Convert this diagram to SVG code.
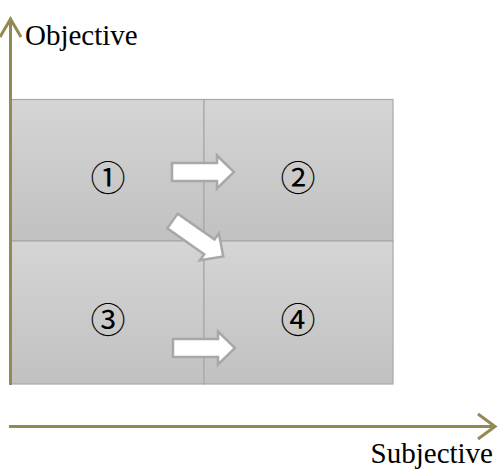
<svg xmlns="http://www.w3.org/2000/svg" width="500" height="475" viewBox="0 0 500 475">
<style>
.box{stroke:#a8a8a8;stroke-width:1.2;fill:url(#g)}
.num{font-family:"Noto Sans CJK JP","DejaVu Sans",sans-serif;font-size:35px;fill:#000;text-anchor:middle;dominant-baseline:central}
.lbl{font-family:"Liberation Serif","Times New Roman",Tinos,"Noto Serif","DejaVu Serif",serif;font-size:29px;fill:#000}
.axis{stroke:#938953;stroke-width:3;fill:none}
.arr{fill:#fff;stroke:#a8a8a8;stroke-width:2.5;stroke-linejoin:miter}
</style>
<defs>
<linearGradient id="g" x1="0" y1="0" x2="0" y2="1">
<stop offset="0" stop-color="#d5d5d5"/>
<stop offset="1" stop-color="#c1c1c1"/>
</linearGradient>
<path id="ar" d="M0,-9 H45 V-16.5 L62,0 L45,16.5 V9 H0 Z"/>
</defs>
<g id="q1"><rect class="box" x="11" y="99.5" width="193" height="141.5"/><text class="num" x="108" y="175">①</text></g>
<g id="q2"><rect class="box" x="204" y="99.5" width="189" height="141.5"/><text class="num" x="298" y="175">②</text></g>
<g id="q3"><rect class="box" x="11" y="241" width="193" height="143"/><text class="num" x="108" y="317">③</text></g>
<g id="q4"><rect class="box" x="204" y="241" width="189" height="143"/><text class="num" x="298" y="317">④</text></g>
<g id="connectors">
<use href="#ar" class="arr" transform="translate(172,172)"/>
<use href="#ar" class="arr" transform="translate(172.5,221) rotate(35)"/>
<use href="#ar" class="arr" transform="translate(173,348)"/>
</g>
<g id="axes">
<path class="axis" d="M10.5,385 V20"/>
<path class="axis" d="M0,37 L10.5,19 L21,37"/>
<path class="axis" d="M9,426.5 H494"/>
<path class="axis" d="M478,414 L495,426.5 L478,439"/>
<text class="lbl" x="25" y="45">Objective</text>
<text class="lbl" x="493" y="463" text-anchor="end">Subjective</text>
</g>
</svg>
